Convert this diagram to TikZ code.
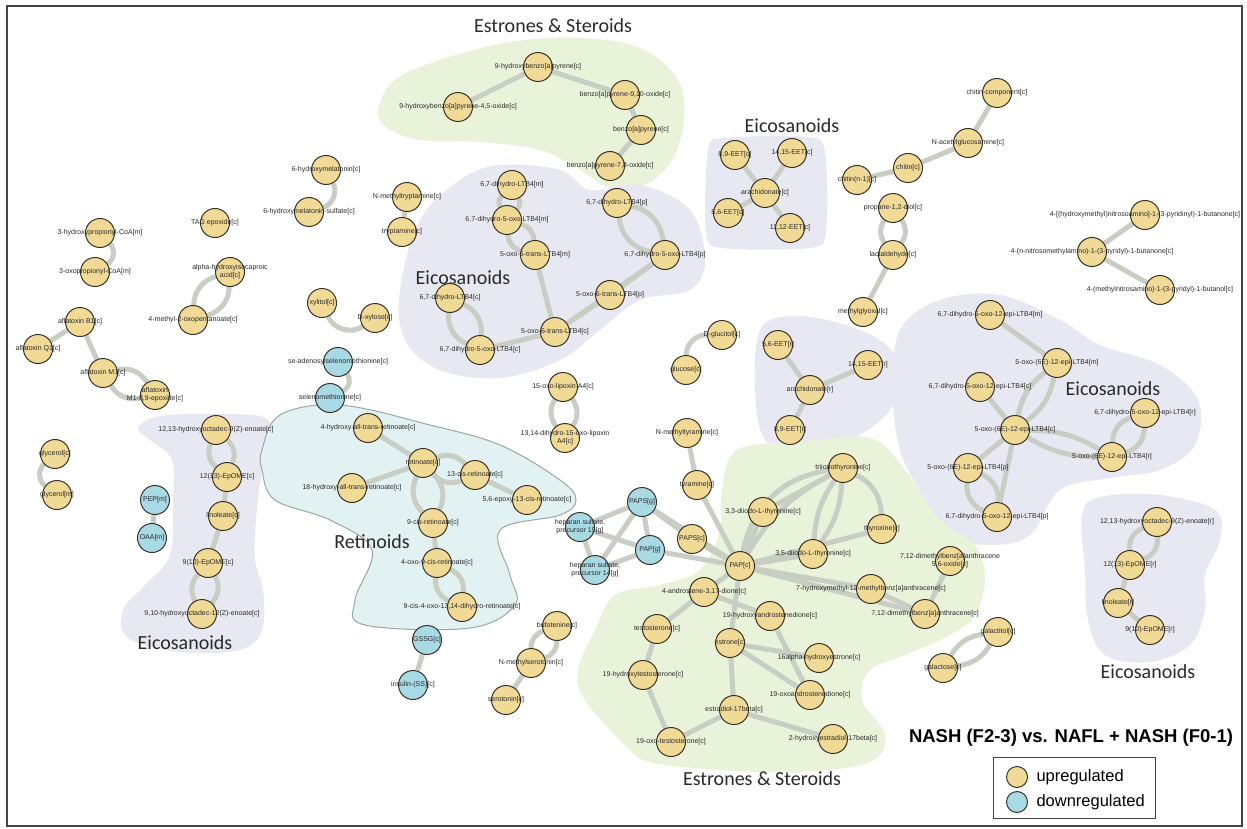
\documentclass[tikz,border=0pt]{standalone}
\usepackage{fontspec}
\setmainfont{Liberation Sans}
\newfontfamily\grpfont{Carlito}
\definecolor{upfill}{HTML}{F0DA96}
\definecolor{downfill}{HTML}{A8DAE6}
\definecolor{nodeline}{HTML}{3A3226}
\definecolor{linkgray}{HTML}{C9CEC5}
\definecolor{lavfill}{HTML}{E8E8F2}
\definecolor{greenfill}{HTML}{E9F3DA}
\definecolor{retfill}{HTML}{E2F1F1}
\definecolor{retline}{HTML}{9AA8A8}
\definecolor{labeltext}{HTML}{2A2A2A}
\definecolor{framegray}{HTML}{444444}
\pgfdeclarelayer{blobs}
\pgfdeclarelayer{links}
\pgfsetlayers{blobs,links,main}
\tikzset{
  metab/.style={circle, draw=nodeline, line width=1pt, minimum size=29pt, inner sep=0pt},
  up/.style={metab, fill=upfill},
  down/.style={metab, fill=downfill},
  lbl/.style={font=\fontsize{7}{8}\selectfont, text=labeltext, align=center, inner sep=0pt},
  link/.style={draw=linkgray, line width=5pt},
  grp/.style={font=\grpfont\fontsize{20}{22}\selectfont, text=labeltext}
}

\begin{document}
\begin{tikzpicture}[x=1pt, y=-1pt]
\useasboundingbox (0,0) rectangle (1247,829);
\draw[framegray, line width=2pt] (7,6) rectangle (1242,826);

% group backgrounds
\begin{pgfonlayer}{blobs}
\fill[greenfill] plot[smooth cycle, tension=0.6] coordinates {(378,110) (395,80) (440,60) (510,42) (580,38) (640,48) (678,80) (684,120) (672,160) (645,185) (610,188) (580,170) (540,150) (480,142) (420,140) (388,128)};
\fill[lavfill] plot[smooth cycle, tension=0.6] coordinates {(400,290) (420,220) (460,180) (500,165) (560,170) (590,190) (640,185) (690,210) (705,260) (690,290) (640,300) (600,330) (560,360) (500,378) (440,370) (405,340)};
\fill[lavfill] plot[smooth cycle, tension=0.5] coordinates {(708,150) (725,138) (808,137) (825,152) (826,232) (810,248) (722,248) (706,232)};
\fill[lavfill] plot[smooth cycle, tension=0.6] coordinates {(760,330) (790,316) (835,322) (880,340) (902,370) (890,410) (850,440) (800,452) (765,440) (755,390)};
\fill[lavfill] plot[smooth cycle, tension=0.6] coordinates {(900,330) (940,300) (1000,295) (1060,320) (1100,345) (1160,365) (1198,400) (1195,445) (1160,470) (1110,478) (1060,490) (1030,535) (990,545) (950,535) (925,500) (900,450) (893,390)};
\fill[lavfill] plot[smooth cycle, tension=0.6] coordinates {(1082,515) (1100,497) (1160,495) (1215,510) (1220,540) (1205,575) (1205,610) (1190,645) (1150,662) (1105,655) (1088,620) (1085,570)};
\fill[lavfill] plot[smooth cycle, tension=0.6] coordinates {(138,428) (160,416) (220,414) (265,418) (273,442) (262,472) (256,520) (255,560) (263,590) (262,630) (240,650) (180,652) (128,638) (123,610) (145,585) (170,555) (173,500) (172,460) (150,440)};
\filldraw[fill=retfill, draw=retline, line width=1pt] plot[smooth cycle, tension=0.6] coordinates {(262,450) (280,415) (340,405) (430,425) (500,445) (560,480) (576,500) (560,515) (500,530) (510,575) (515,605) (470,628) (365,625) (355,600) (372,550) (330,520) (275,500) (262,470)};
\fill[greenfill] plot[smooth cycle, tension=0.6] coordinates {(737,450) (800,442) (870,438) (905,470) (940,520) (975,545) (985,580) (975,615) (950,635) (905,655) (870,670) (862,700) (885,735) (870,762) (800,772) (720,770) (650,762) (625,745) (585,700) (578,670) (595,630) (615,595) (660,585) (700,570) (720,530) (722,490)};
\end{pgfonlayer}

% group names
\node[grp] (gsteroidtop) at (553,26) {Estrones \& Steroids};
\node[grp] (geicoc) at (792,126) {Eicosanoids};
\node[grp] (geicoltb) at (463,278) {Eicosanoids};
\node[grp] (geicoepi) at (1113,389) {Eicosanoids};
\node[grp] (gretin) at (372,542) {Retinoids};
\node[grp] (geicoleft) at (185,643) {Eicosanoids};
\node[grp] (geicor) at (1148,672) {Eicosanoids};
\node[grp] (gsteroidlow) at (762,779) {Estrones \& Steroids};

% metabolites
\node[up, label={[lbl]center:{9-hydroxybenzo[a]pyrene[c]}}] (hbp) at (538,67) {};
\node[up, label={[lbl]center:{9-hydroxybenzo[a]pyrene-4,5-oxide[c]}}] (hbpox) at (458,107) {};
\node[up, label={[lbl]center:{benzo[a]pyrene-9,10-oxide[c]}}] (bpox910) at (625,95) {};
\node[up, label={[lbl]center:{benzo[a]pyrene[c]}}] (bp) at (641,130) {};
\node[up, label={[lbl]center:{benzo[a]pyrene-7,8-oxide[c]}}] (bpox78) at (610,166) {};
\node[up, label={[lbl]center:{6-hydroxymelatonin[c]}}] (hmel) at (326,170) {};
\node[up, label={[lbl]center:{6-hydroxymelatonin-sulfate[c]}}] (hmels) at (309,212) {};
\node[up, label={[lbl]center:{N-methyltryptamine[c]}}] (nmtrp) at (407,197) {};
\node[up, label={[lbl]center:{tryptamine[c]}}] (trp) at (402,232) {};
\node[up, label={[lbl]center:{TAG epoxide[c]}}] (tag) at (215,223) {};
\node[up, label={[lbl]center:{3-hydroxypropionyl-CoA[m]}}] (hpcoa) at (100,233) {};
\node[up, label={[lbl]center:{3-oxopropionyl-CoA[m]}}] (opcoa) at (95,272) {};
\node[up, label={[lbl]center:{alpha-hydroxyisocaproic\\acid[c]}}] (ahic) at (230,272) {};
\node[up, label={[lbl]center:{4-methyl-2-oxopentanoate[c]}}] (mop) at (193,320) {};
\node[up, label={[lbl]center:{aflatoxin B1[c]}}] (afb) at (80,322) {};
\node[up, label={[lbl]center:{aflatoxin Q1[c]}}] (afq) at (38,349) {};
\node[up, label={[lbl]center:{aflatoxin M1[c]}}] (afm) at (103,373) {};
\node[up, label={[lbl]center:{aflatoxin\\M1-8,9-epoxide[c]}}] (afe) at (155,395) {};
\node[up, label={[lbl]center:{glycerol[c]}}] (glyc) at (55,454) {};
\node[up, label={[lbl]center:{glycerol[m]}}] (glym) at (57,495) {};
\node[down, label={[lbl]center:{PEP[m]}}] (pep) at (155,500) {};
\node[down, label={[lbl]center:{OAA[m]}}] (oaa) at (152,538) {};
\node[up, label={[lbl]center:{12,13-hydroxyoctadec-9(Z)-enoate[c]}}] (hodc) at (216,430) {};
\node[up, label={[lbl]center:{12(13)-EpOME[c]}}] (epoxc) at (227,477) {};
\node[up, label={[lbl]center:{linoleate[c]}}] (linc) at (223,516) {};
\node[up, label={[lbl]center:{9(10)-EpOME[c]}}] (epoxnc) at (208,563) {};
\node[up, label={[lbl]center:{9,10-hydroxyoctadec-12(Z)-enoate[c]}}] (hodnc) at (202,614) {};
\node[up, label={[lbl]center:{xylitol[c]}}] (xylt) at (322,303) {};
\node[up, label={[lbl]center:{D-xylose[c]}}] (xyl) at (375,318) {};
\node[down, label={[lbl]center:{se-adenosylselenomethionine[c]}}] (sam) at (338,362) {};
\node[down, label={[lbl]center:{selenomethionine[c]}}] (smet) at (330,398) {};
\node[up, label={[lbl]center:{4-hydroxy-all-trans-retinoate[c]}}] (retoh) at (368,428) {};
\node[up, label={[lbl]center:{retinoate[c]}}] (ret) at (423,463) {};
\node[up, label={[lbl]center:{18-hydroxy-all-trans-retinoate[c]}}] (retohe) at (352,488) {};
\node[up, label={[lbl]center:{13-cis-retinoate[c]}}] (retcis) at (475,475) {};
\node[up, label={[lbl]center:{5,6-epoxy-13-cis-retinoate[c]}}] (retep) at (527,500) {};
\node[up, label={[lbl]center:{9-cis-retinoate[c]}}] (retnine) at (433,523) {};
\node[up, label={[lbl]center:{4-oxo-9-cis-retinoate[c]}}] (retoxo) at (437,563) {};
\node[up, label={[lbl]center:{9-cis-4-oxo-13,14-dihydro-retinoate[c]}}] (retdh) at (462,607) {};
\node[up, label={[lbl]center:{15-oxo-lipoxin A4[c]}}] (lxa) at (563,387) {};
\node[up, label={[lbl]center:{13,14-dihydro-15-oxo-lipoxin\\A4[c]}}] (lxadh) at (565,438) {};
\node[up, label={[lbl]center:{D-glucitol[c]}}] (gluct) at (722,335) {};
\node[up, label={[lbl]center:{glucose[c]}}] (glc) at (686,370) {};
\node[up, label={[lbl]center:{N-methyltyramine[c]}}] (nmtyr) at (687,433) {};
\node[up, label={[lbl]center:{tyramine[c]}}] (tyr) at (697,485) {};
\node[up, label={[lbl]center:{5,6-EET[r]}}] (eetfr) at (778,345) {};
\node[up, label={[lbl]center:{14,15-EET[r]}}] (eetlr) at (868,365) {};
\node[up, label={[lbl]center:{arachidonate[r]}}] (arar) at (810,390) {};
\node[up, label={[lbl]center:{8,9-EET[r]}}] (eeter) at (790,430) {};
\node[up, label={[lbl]center:{8,9-EET[c]}}] (eetec) at (735,155) {};
\node[up, label={[lbl]center:{14,15-EET[c]}}] (eetlc) at (792,153) {};
\node[up, label={[lbl]center:{arachidonate[c]}}] (arac) at (765,193) {};
\node[up, label={[lbl]center:{5,6-EET[c]}}] (eetfc) at (728,213) {};
\node[up, label={[lbl]center:{11,12-EET[c]}}] (eetkc) at (790,228) {};
\node[up, label={[lbl]center:{chitin(n-1)[c]}}] (chnm) at (857,180) {};
\node[up, label={[lbl]center:{chitin[c]}}] (chn) at (908,168) {};
\node[up, label={[lbl]center:{N-acetylglucosamine[c]}}] (glcnac) at (968,143) {};
\node[up, label={[lbl]center:{chitin-component[c]}}] (chcomp) at (997,93) {};
\node[up, label={[lbl]center:{propane-1,2-diol[c]}}] (pdiol) at (893,208) {};
\node[up, label={[lbl]center:{lactaldehyde[c]}}] (lald) at (893,255) {};
\node[up, label={[lbl]center:{methylglyoxal[c]}}] (mgo) at (863,312) {};
\node[up, label={[lbl]center:{4-[(hydroxymethyl)nitrosoamino]-1-(3-pyridinyl)-1-butanone[c]}}] (nnkoh) at (1145,215) {};
\node[up, label={[lbl]center:{4-(n-nitrosomethylamino)-1-(3-pyridyl)-1-butanone[c]}}] (nnk) at (1092,252) {};
\node[up, label={[lbl]center:{4-(methylnitrosamino)-1-(3-pyridyl)-1-butanol[c]}}] (nnal) at (1160,290) {};
\node[up, label={[lbl]center:{6,7-dihydro-LTB4[m]}}] (ltbm) at (512,185) {};
\node[up, label={[lbl]center:{6,7-dihydro-5-oxo-LTB4[m]}}] (oltbm) at (507,220) {};
\node[up, label={[lbl]center:{5-oxo-6-trans-LTB4[m]}}] (tltbm) at (535,255) {};
\node[up, label={[lbl]center:{6,7-dihydro-LTB4[p]}}] (ltbp) at (617,203) {};
\node[up, label={[lbl]center:{6,7-dihydro-5-oxo-LTB4[p]}}] (oltbp) at (665,255) {};
\node[up, label={[lbl]center:{5-oxo-6-trans-LTB4[p]}}] (tltbp) at (610,295) {};
\node[up, label={[lbl]center:{6,7-dihydro-LTB4[c]}}] (ltbc) at (450,298) {};
\node[up, label={[lbl]center:{5-oxo-6-trans-LTB4[c]}}] (tltbc) at (555,332) {};
\node[up, label={[lbl]center:{6,7-dihydro-5-oxo-LTB4[c]}}] (oltbc) at (480,350) {};
\node[up, label={[lbl]center:{6,7-dihydro-5-oxo-12-epi-LTB4[m]}}] (epiom) at (990,315) {};
\node[up, label={[lbl]center:{5-oxo-(6E)-12-epi-LTB4[m]}}] (epiem) at (1057,363) {};
\node[up, label={[lbl]center:{6,7-dihydro-5-oxo-12-epi-LTB4[c]}}] (epioc) at (980,387) {};
\node[up, label={[lbl]center:{5-oxo-(6E)-12-epi-LTB4[c]}}] (epiec) at (1015,430) {};
\node[up, label={[lbl]center:{5-oxo-(6E)-12-epi-LTB4[p]}}] (epiep) at (968,468) {};
\node[up, label={[lbl]center:{6,7-dihydro-5-oxo-12-epi-LTB4[p]}}] (epiop) at (997,517) {};
\node[up, label={[lbl]center:{6,7-dihydro-5-oxo-12-epi-LTB4[r]}}] (epior) at (1145,413) {};
\node[up, label={[lbl]center:{5-oxo-(6E)-12-epi-LTB4[r]}}] (epier) at (1112,457) {};
\node[up, label={[lbl]center:{12,13-hydroxyoctadec-9(Z)-enoate[r]}}] (hodr) at (1157,522) {};
\node[up, label={[lbl]center:{12(13)-EpOME[r]}}] (epoxr) at (1130,565) {};
\node[up, label={[lbl]center:{linoleate[r]}}] (linr) at (1118,603) {};
\node[up, label={[lbl]center:{9(10)-EpOME[r]}}] (epoxnr) at (1150,630) {};
\node[down, label={[lbl]center:{heparan sulfate,\\precursor 15[g]}}] (hepf) at (580,527) {};
\node[down, label={[lbl]center:{heparan sulfate,\\precursor 14[g]}}] (hepn) at (595,570) {};
\node[down, label={[lbl]center:{PAPS[g]}}] (papsg) at (642,502) {};
\node[down, label={[lbl]center:{PAP[g]}}] (papg) at (650,550) {};
\node[up, label={[lbl]center:{PAPS[c]}}] (papsc) at (692,539) {};
\node[up, label={[lbl]center:{PAP[c]}}] (papc) at (740,566) {};
\node[up, label={[lbl]center:{triiodothyronine[c]}}] (tiy) at (843,468) {};
\node[up, label={[lbl]center:{3,3-diiodo-L-thyronine[c]}}] (ditb) at (763,512) {};
\node[up, label={[lbl]center:{thyroxine[c]}}] (thx) at (882,529) {};
\node[up, label={[lbl]center:{3,5-diiodo-L-thyronine[c]}}] (ditf) at (813,554) {};
\node[up, label={[lbl]center:{7,12-dimethylbenz[a]anthracene\\5,6-oxide[c]}}] (dmbaox) at (950,561) {};
\node[up, label={[lbl]center:{7-hydroxymethyl-12-methylbenz[a]anthracene[c]}}] (hmba) at (871,589) {};
\node[up, label={[lbl]center:{7,12-dimethylbenz[a]anthracene[c]}}] (dmba) at (925,614) {};
\node[up, label={[lbl]center:{4-androstene-3,17-dione[c]}}] (andro) at (704,592) {};
\node[up, label={[lbl]center:{testosterone[c]}}] (testo) at (657,629) {};
\node[up, label={[lbl]center:{19-hydroxyandrostenedione[c]}}] (handro) at (770,616) {};
\node[up, label={[lbl]center:{estrone[c]}}] (estrone) at (730,643) {};
\node[up, label={[lbl]center:{16alpha-hydroxyestrone[c]}}] (hestrone) at (819,658) {};
\node[up, label={[lbl]center:{19-hydroxytestosterone[c]}}] (htesto) at (643,675) {};
\node[up, label={[lbl]center:{19-oxoandrostenedione[c]}}] (oandro) at (810,695) {};
\node[up, label={[lbl]center:{estradiol-17beta[c]}}] (estradiol) at (734,710) {};
\node[up, label={[lbl]center:{19-oxo-testosterone[c]}}] (otesto) at (671,742) {};
\node[up, label={[lbl]center:{2-hydroxyestradiol-17beta[c]}}] (hestradiol) at (833,739) {};
\node[up, label={[lbl]center:{galactitol[c]}}] (galt) at (998,632) {};
\node[up, label={[lbl]center:{galactose[c]}}] (gal) at (943,668) {};
\node[up, label={[lbl]center:{bufotenine[c]}}] (bufo) at (557,626) {};
\node[up, label={[lbl]center:{N-methylserotonin[c]}}] (nmser) at (531,663) {};
\node[up, label={[lbl]center:{serotonin[c]}}] (ser) at (506,700) {};
\node[down, label={[lbl]center:{GSSG[c]}}] (gssg) at (427,640) {};
\node[down, label={[lbl]center:{insulin-(SS)[c]}}] (ins) at (413,685) {};

% connections
\begin{pgfonlayer}{links}
\draw[link] (hbp) -- (hbpox) (hbp) -- (bpox910) (bpox910) -- (bp) (bp) -- (bpox78);
\draw[link] (hmel) to[bend left=50] (hmels);
\draw[link] (nmtrp) -- (trp);
\draw[link] (hpcoa) to[bend left=50] (opcoa);
\draw[link] (ahic) to[bend left=35] (mop) (ahic) to[bend right=35] (mop);
\draw[link] (afb) -- (afq) (afb) -- (afm);
\draw[link] (afm) to[bend left=35] (afe) (afm) to[bend right=35] (afe);
\draw[link] (glyc) to[bend right=50] (glym);
\draw[link] (pep) -- (oaa);
\draw[link] (hodc) to[bend left=35] (epoxc) (hodc) to[bend right=35] (epoxc);
\draw[link] (epoxc) -- (linc) (linc) -- (epoxnc);
\draw[link] (epoxnc) to[bend left=35] (hodnc) (epoxnc) to[bend right=35] (hodnc);
\draw[link] (xylt) to[bend right=50] (xyl);
\draw[link] (sam) to[bend left=50] (smet);
\draw[link] (retoh) -- (ret) (retohe) -- (ret) (retcis) -- (retep) (retnine) -- (retoxo);
\draw[link] (ret) to[bend left=35] (retcis) (ret) to[bend right=35] (retcis);
\draw[link] (ret) to[bend left=35] (retnine) (ret) to[bend right=35] (retnine);
\draw[link] (retoxo) to[bend left=35] (retdh) (retoxo) to[bend right=35] (retdh);
\draw[link] (lxa) to[bend left=35] (lxadh) (lxa) to[bend right=35] (lxadh);
\draw[link] (gluct) to[bend right=45] (glc);
\draw[link] (nmtyr) -- (tyr) (tyr) -- (papc);
\draw[link] (arar) -- (eetfr) (arar) -- (eetlr) (arar) -- (eeter);
\draw[link] (arac) -- (eetec) (arac) -- (eetlc) (arac) -- (eetfc) (arac) -- (eetkc);
\draw[link] (chnm) -- (chn) (chn) -- (glcnac) (glcnac) -- (chcomp);
\draw[link] (pdiol) to[bend left=35] (lald) (pdiol) to[bend right=35] (lald);
\draw[link] (lald) -- (mgo);
\draw[link] (nnkoh) -- (nnk) (nnk) -- (nnal);
\draw[link] (ltbm) to[bend left=35] (oltbm) (ltbm) to[bend right=35] (oltbm);
\draw[link] (oltbm) to[bend left=35] (tltbm) (oltbm) to[bend right=35] (tltbm);
\draw[link] (ltbp) to[bend left=35] (oltbp) (ltbp) to[bend right=35] (oltbp);
\draw[link] (ltbc) to[bend left=35] (oltbc) (ltbc) to[bend right=35] (oltbc);
\draw[link] (tltbm) -- (tltbc) (oltbp) -- (tltbp) (oltbp) -- (tltbc) (tltbp) -- (tltbc) (tltbc) -- (oltbc);
\draw[link] (epiom) -- (epiem) (epioc) -- (epiec) (epiec) -- (epiep) (epiec) -- (epiop);
\draw[link] (epiem) to[bend left=20] (epiec) (epiem) to[bend right=20] (epiec);
\draw[link] (epiep) to[bend left=35] (epiop) (epiep) to[bend right=35] (epiop);
\draw[link] (epiec) to[bend left=15] (epier) (epiec) to[bend right=15] (epier);
\draw[link] (epior) to[bend left=35] (epier) (epior) to[bend right=35] (epier);
\draw[link] (hodr) to[bend left=35] (epoxr) (hodr) to[bend right=35] (epoxr);
\draw[link] (epoxr) -- (linr) (linr) -- (epoxnr);
\draw[link] (galt) to[bend left=25] (gal) (galt) to[bend right=25] (gal);
\draw[link] (bufo) to[bend left=35] (nmser) (bufo) to[bend right=35] (nmser);
\draw[link] (nmser) -- (ser) (gssg) -- (ins);
% sulfation
\draw[link] (papsg) -- (hepf) (papsg) -- (hepn) (hepf) -- (hepn) (papg) -- (hepf) (papg) -- (hepn);
\draw[link] (papsg) -- (papg) (papsg) -- (papsc) (papg) -- (papc) (papsg) -- (papc);
\draw[link] (papsc) -- (papc);
\draw[link] (papc) -- (thx) (papc) -- (ditb) (papc) -- (ditf);
\draw[link] (papc) to[bend left=15] (tiy) (papc) to[bend left=35] (tiy);
\draw[link] (papc) -- (hmba) (papc) -- (dmba) (papc) -- (estrone) (papc) -- (andro);
\draw[link] (tiy) -- (ditb) (tiy) to[bend left=15] (ditf) (tiy) to[bend right=15] (ditf) (tiy) to[bend left=30] (thx);
\draw[link] (dmbaox) -- (dmba) (hmba) -- (dmba);
% steroids
\draw[link] (andro) -- (testo) (andro) -- (handro) (handro) -- (oandro) (estrone) -- (oandro);
\draw[link] (estrone) -- (hestrone) (estrone) -- (estradiol) (testo) -- (htesto);
\draw[link] (htesto) -- (otesto) (otesto) -- (estradiol) (estradiol) -- (hestradiol);
\end{pgfonlayer}

% title and key
\node[font=\bfseries\fontsize{18.5}{22}\selectfont, text=black] (title) at (1071,738) {NASH (F2-3) vs. NAFL + NASH (F0-1)};
\draw[framegray, line width=0.8pt] (993,757) rectangle (1155,818);
\node[up, minimum size=21pt] (keyup) at (1017,777) {};
\node[down, minimum size=21pt] (keydown) at (1017,802) {};
\node[anchor=west, font=\fontsize{16.5}{18}\selectfont] (keyuptext) at (1033,777) {upregulated};
\node[anchor=west, font=\fontsize{16.5}{18}\selectfont] (keydowntext) at (1033,802) {downregulated};
\end{tikzpicture}
\end{document}
